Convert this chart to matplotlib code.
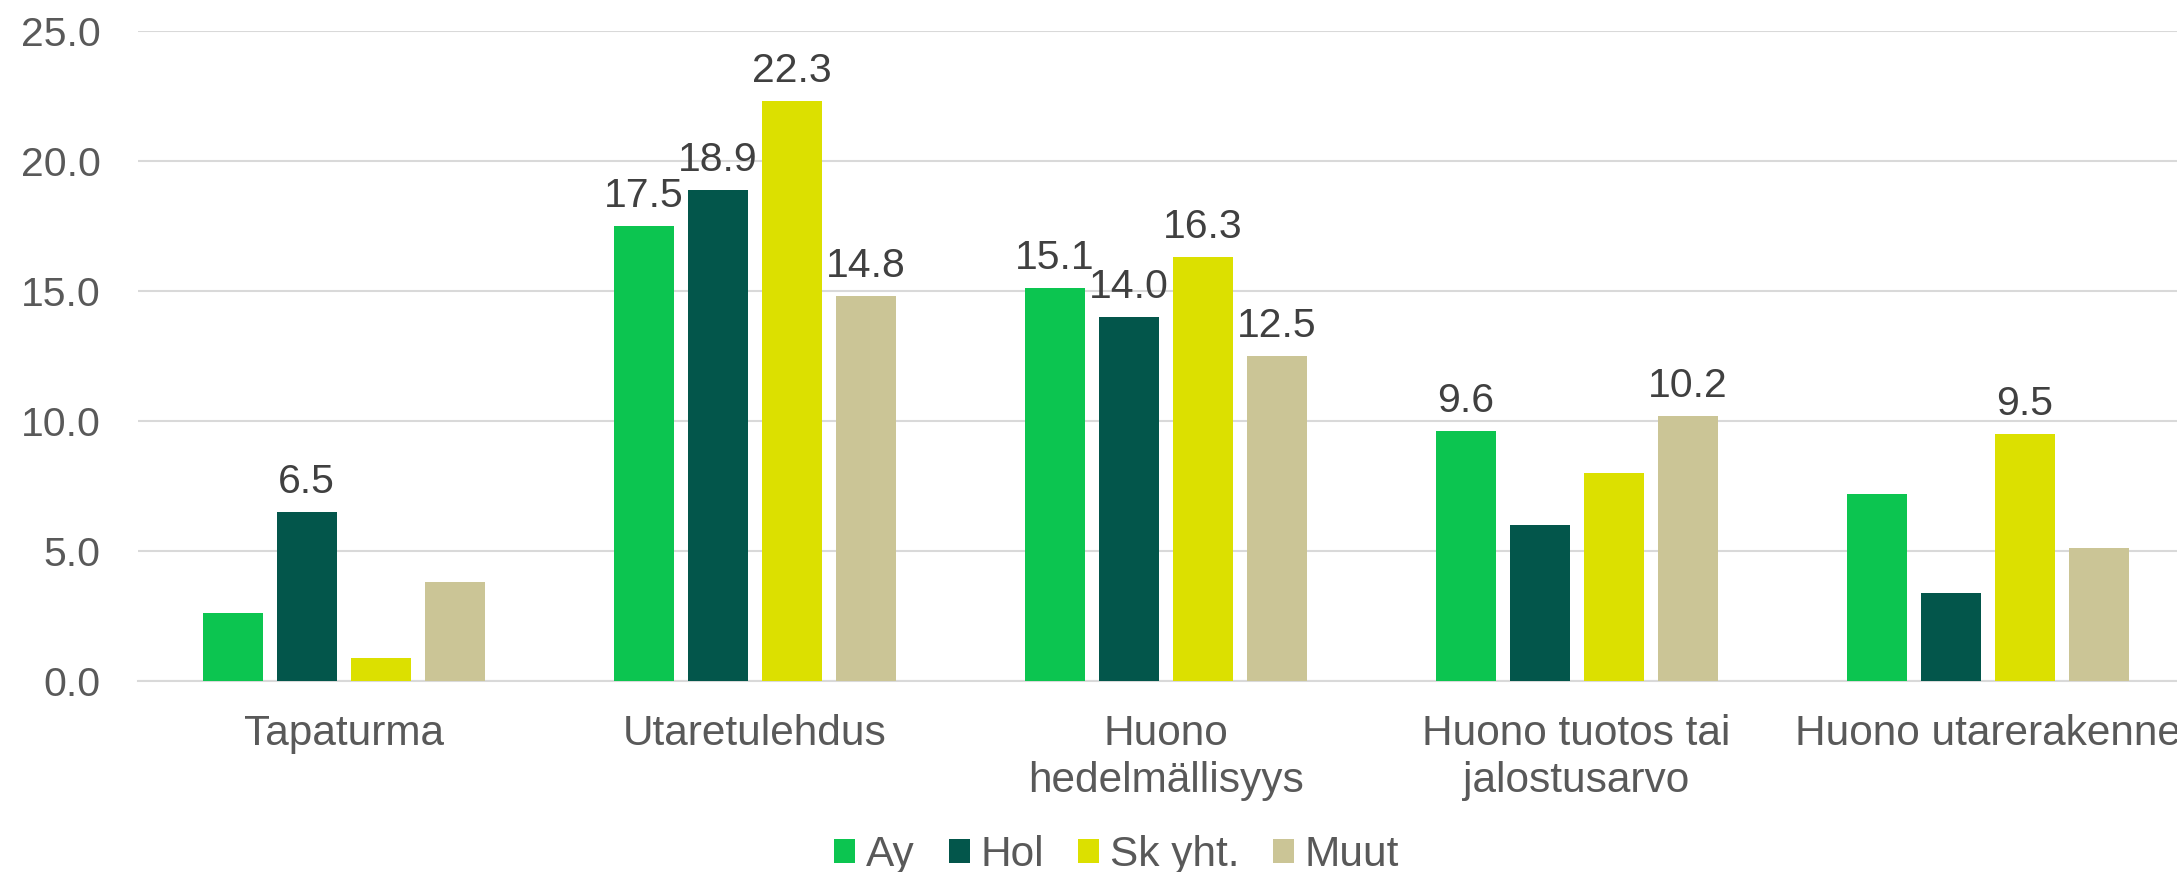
import numpy as np
import matplotlib
matplotlib.use("Agg")
import matplotlib.pyplot as plt

# data
categories = ["Tapaturma", "Utaretulehdus", "Huono\nhedelmällisyys",
              "Huono tuotos tai\njalostusarvo", "Huono utarerakenne"]
series = ["Ay", "Hol", "Sk yht.", "Muut"]
ay = [2.6, 17.5, 15.1, 9.6, 7.2]
hol = [6.5, 18.9, 14.0, 6.0, 3.4]
sk = [0.9, 22.3, 16.3, 8.0, 9.5]
muut = [3.8, 14.8, 12.5, 10.2, 5.1]
# which bars carry a value label in the original
show_ay = [False, True, True, True, False]
show_hol = [True, True, True, False, False]
show_sk = [False, True, True, False, True]
show_muut = [False, True, True, True, False]

colors = ["#0cc550", "#03564b", "#dce000", "#cbc596"]
plt.rcParams["font.family"] = ["Liberation Sans", "DejaVu Sans"]
fs = 29.5

fig = plt.figure(figsize=(21.77, 8.72), dpi=100)
ax = fig.add_axes([0.0634, 0.219, 0.944, 0.7454])

x = np.arange(len(categories))
pitch = 0.18
width = 0.146
values = [ay, hol, sk, muut]
shows = [show_ay, show_hol, show_sk, show_muut]
for k, (vals, shw) in enumerate(zip(values, shows)):
    pos = x + (k - 1.5) * pitch
    bars = ax.bar(pos, vals, width, color=colors[k], label=series[k], zorder=3)
    for b, v, s in zip(bars, vals, shw):
        if s:
            ax.annotate("{:.1f}".format(v), (b.get_x() + b.get_width() / 2, v),
                        xytext=(0, 8), textcoords="offset points",
                        ha="center", va="bottom", fontsize=fs, color="#404040")

ax.set_xlim(-0.5, 4.5)
ax.set_ylim(0, 25)
ax.set_yticks(np.arange(0, 26, 5))
ax.set_yticklabels(["{:.1f}".format(t) for t in np.arange(0, 26, 5)])
ax.set_xticks(x)
ax.set_xticklabels(categories, linespacing=1.22)
ax.tick_params(axis="y", length=0, pad=27, labelsize=fs, labelcolor="#595959")
ax.tick_params(axis="x", length=0, pad=24, labelsize=30.5, labelcolor="#595959")
ax.grid(axis="y", color="#d9d9d9", lw=1.5, zorder=0)
for sp in ["top", "right", "left"]:
    ax.spines[sp].set_visible(False)
ax.spines["bottom"].set_color("#d9d9d9")
ax.spines["bottom"].set_linewidth(1.5)

leg = fig.legend(loc="center", bbox_to_anchor=(0.513, 0.019), ncol=4, frameon=False,
                 fontsize=30.5, handlelength=0.5, handleheight=0.5,
                 handletextpad=0.25, columnspacing=0.8, labelcolor="#595959")

fig.savefig("out.png", dpi=100)
